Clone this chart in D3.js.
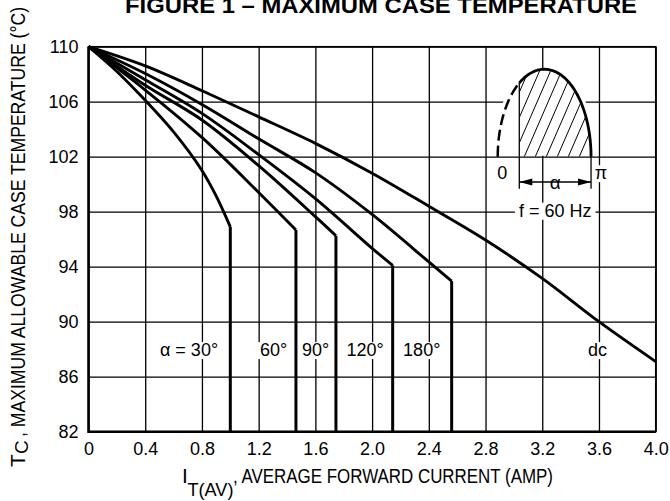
<!DOCTYPE html>
<html>
<head>
<meta charset="utf-8">
<script src="https://cdn.jsdelivr.net/npm/d3@7"></script>
<style>
  body { margin: 0; background: #fff; }
  svg { display: block; font-family: "Liberation Sans", Arial, Helvetica, sans-serif; }
</style>
</head>
<body>
<svg id="chart" width="670" height="501"></svg>
<script>
// Axis ticks
const currentTicks = [0, 0.4, 0.8, 1.2, 1.6, 2.0, 2.4, 2.8, 3.2, 3.6, 4.0];
const tempTicks = [82, 86, 90, 94, 98, 102, 106, 110];

// Curves as [I_T(AV) amp, Tc degC]; a repeated current at the end is the vertical drop
const alpha30 = [[0, 110], [0.2, 108.2], [0.4, 106.1], [0.6, 103.8], [0.8, 101.0], [0.9, 99.15], [1.0, 96.9], [1.0, 82]];
const alpha60 = [[0, 110], [0.4, 106.85], [0.8, 103.4], [1.2, 99.4], [1.463, 96.67], [1.463, 82]];
const alpha90 = [[0, 110], [0.4, 107.2], [0.8, 104.67], [1.2, 101.35], [1.6, 97.64], [1.745, 96.25], [1.745, 82]];
const alpha120 = [[0, 110], [0.4, 107.6], [0.8, 105.15], [1.2, 102.15], [1.6, 98.95], [2.0, 95.34], [2.145, 94.1], [2.145, 82]];
const alpha180 = [[0, 110], [0.4, 108.05], [0.8, 105.8], [1.2, 103.3], [1.6, 100.84], [2.0, 97.8], [2.4, 94.35], [2.561, 92.95], [2.561, 82]];
const dcCurve = [[0, 110], [0.4, 108.6], [0.8, 106.8], [1.2, 104.9], [1.6, 102.97], [2.0, 100.8], [2.4, 98.4], [2.8, 95.94], [3.2, 93.15], [3.6, 90.0], [4.0, 87.1]];

const curves = [alpha30, alpha60, alpha90, alpha120, alpha180, dcCurve];
const curveLabels = ["α = 30°", "60°", "90°", "120°", "180°", "dc"];
const labelCurrent = [0.709, 1.305, 1.602, 1.95, 2.35, 3.59];
const labelTemp = 87.5;

const svg = d3.select("#chart");
const x = d3.scaleLinear().domain([0, 4]).range([88.5, 655.7]);
const y = d3.scaleLinear().domain([82, 110]).range([431.7, 46.7]);
const plotH = y(82) - y(110);

const gridG = svg.append("g");
const maskG = svg.append("g");
const curveG = svg.append("g");
const textG = svg.append("g");

// grid + tick labels
gridG.append("g")
  .attr("transform", `translate(0,${y(82)})`)
  .call(d3.axisBottom(x).tickValues(currentTicks).tickSize(-plotH).tickPadding(11)
    .tickFormat(d => d === 0 ? "0" : d.toFixed(1)))
  .call(g => g.select(".domain").remove())
  .call(g => g.selectAll("line").attr("stroke", "#000").attr("stroke-width", 1.3))
  .call(g => g.selectAll("text").attr("fill", "#000"))
  .attr("font-size", 18).attr("font-family", null);

gridG.append("g")
  .attr("transform", `translate(${x(0)},0)`)
  .call(d3.axisLeft(y).tickValues(tempTicks).tickSize(-(x(4) - x(0))).tickPadding(10))
  .call(g => g.select(".domain").remove())
  .call(g => g.selectAll("line").attr("stroke", "#000").attr("stroke-width", 1.3))
  .call(g => g.selectAll("text").attr("fill", "#000"))
  .attr("font-size", 18).attr("font-family", null);

// frame
gridG.append("rect")
  .attr("x", x(0)).attr("y", y(110))
  .attr("width", x(4) - x(0)).attr("height", plotH)
  .attr("fill", "none").attr("stroke", "#000").attr("stroke-width", 1.5);
gridG.append("path")
  .attr("d", `M${x(0)},${y(110)}V${y(82)}H${x(4)}`)
  .attr("fill", "none").attr("stroke", "#000").attr("stroke-width", 2.4);

// curves
const smooth = d3.line().x(d => x(d[0])).y(d => y(d[1])).curve(d3.curveCatmullRom.alpha(0.5));
const straight = d3.line().x(d => x(d[0])).y(d => y(d[1]));
curves.forEach(pts => {
  const n = pts.length;
  const hasDrop = pts[n - 1][0] === pts[n - 2][0];
  const body = hasDrop ? pts.slice(0, -1) : pts;
  curveG.append("path").attr("d", smooth(body))
    .attr("fill", "none").attr("stroke", "#000").attr("stroke-width", 2.9)
    .attr("stroke-linejoin", "round");
  if (hasDrop) {
    curveG.append("path").attr("d", straight(pts.slice(-2)))
      .attr("fill", "none").attr("stroke", "#000").attr("stroke-width", 3);
  }
});

// text with white backing
function label(txt, cx, by, size, pad) {
  const t = textG.append("text")
    .attr("x", cx).attr("y", by)
    .attr("text-anchor", "middle")
    .attr("font-size", size)
    .text(txt);
  const b = t.node().getBBox();
  maskG.append("rect")
    .attr("x", b.x - pad).attr("y", b.y + 2)
    .attr("width", b.width + 2 * pad).attr("height", b.height - 3)
    .attr("fill", "#fff");
  return t;
}

curveLabels.forEach((s, i) => label(s, x(labelCurrent[i]), y(labelTemp), 18, 3));

// inset: conduction angle sketch
const cx = x(3.215), rx = x(3.215 + 0.329) - cx;
const base = y(102), ry = base - y(108.36);
const fireX = x(3.038);
const th0 = Math.acos((fireX - cx) / rx);
const pt = (th, r = rx) => [cx + r * Math.cos(th), base - ry * Math.sin(th)];
const raw = d3.line();

const maskPts = d3.range(Math.PI, 0, -0.02).concat([0]).map(th => [cx + (rx + 6) * Math.cos(th), base - 1 - (ry - 1) * Math.sin(th)]);
maskG.append("path").attr("d", raw(maskPts) + "Z").attr("fill", "#fff");

const clip = svg.append("clipPath").attr("id", "hatchClip");
const solidPts = d3.range(th0, 0, -0.02).concat([0]).map(th => pt(th));
clip.append("path").attr("d", raw([[fireX, base]].concat(solidPts)) + "Z");

const hatch = curveG.append("g").attr("clip-path", "url(#hatchClip)");
d3.range(fireX - 50, cx + rx + 10, 11).forEach(x0 => {
  hatch.append("line")
    .attr("x1", x0).attr("y1", base)
    .attr("x2", x0 + 100 / 2.3).attr("y2", base - 100)
    .attr("stroke", "#000").attr("stroke-width", 1);
});

const dashPts = d3.range(Math.PI, th0, -0.02).concat([th0]).map(th => pt(th));
curveG.append("path").attr("d", raw(dashPts))
  .attr("fill", "none").attr("stroke", "#000").attr("stroke-width", 2.5)
  .attr("stroke-dasharray", "11,5");
curveG.append("path").attr("d", raw(solidPts))
  .attr("fill", "none").attr("stroke", "#000").attr("stroke-width", 2.8);
curveG.append("line")
  .attr("x1", fireX).attr("y1", base).attr("x2", fireX).attr("y2", pt(th0)[1])
  .attr("stroke", "#000").attr("stroke-width", 1.3);

// dimension arrow for alpha
const endX = cx + rx;
const ay = base + 25.3;
[fireX, endX].forEach(xx => {
  curveG.append("line").attr("x1", xx).attr("y1", base).attr("x2", xx).attr("y2", base + 32)
    .attr("stroke", "#000").attr("stroke-width", 1.3);
});
curveG.append("line").attr("x1", fireX).attr("y1", ay).attr("x2", endX).attr("y2", ay)
  .attr("stroke", "#000").attr("stroke-width", 1.3);
curveG.append("path")
  .attr("d", `M${fireX},${ay}l13,-3.5v7Z M${endX},${ay}l-13,-3.5v7Z`)
  .attr("fill", "#000");

label("α", (fireX + endX) / 2, ay + 6.5, 19, 2);
label("0", cx - rx + 4.5, base + 22.5, 18, 2);
label("π", endX + 10, base + 22.5, 18, 2);
label("f = 60 Hz", (fireX + endX) / 2, y(98) + 5, 18, 4);

// titles
svg.append("text")
  .attr("x", 125).attr("y", 13)
  .attr("font-size", 22).attr("font-weight", "bold")
  .attr("textLength", 512).attr("lengthAdjust", "spacingAndGlyphs")
  .text("FIGURE 1 – MAXIMUM CASE TEMPERATURE");

svg.append("text").attr("x", 182).attr("y", 483.3).attr("font-size", 21).text("I");
svg.append("text").attr("x", 187.5).attr("y", 496).attr("font-size", 19)
  .attr("textLength", 46).attr("lengthAdjust", "spacingAndGlyphs").text("T(AV)");
svg.append("text").attr("x", 233).attr("y", 483.3).attr("font-size", 21)
  .attr("textLength", 320).attr("lengthAdjust", "spacingAndGlyphs")
  .text(", AVERAGE FORWARD CURRENT (AMP)");

const yt = svg.append("g").attr("transform", "translate(25,467) rotate(-90)");
yt.append("text").attr("x", 0).attr("y", 0).attr("font-size", 21).text("T");
yt.append("text").attr("x", 13).attr("y", 3).attr("font-size", 19).text("C");
yt.append("text").attr("x", 30).attr("y", 0).attr("font-size", 21)
  .attr("textLength", 430).attr("lengthAdjust", "spacingAndGlyphs")
  .text(" , MAXIMUM ALLOWABLE CASE TEMPERATURE (°C)");
</script>
</body>
</html>
